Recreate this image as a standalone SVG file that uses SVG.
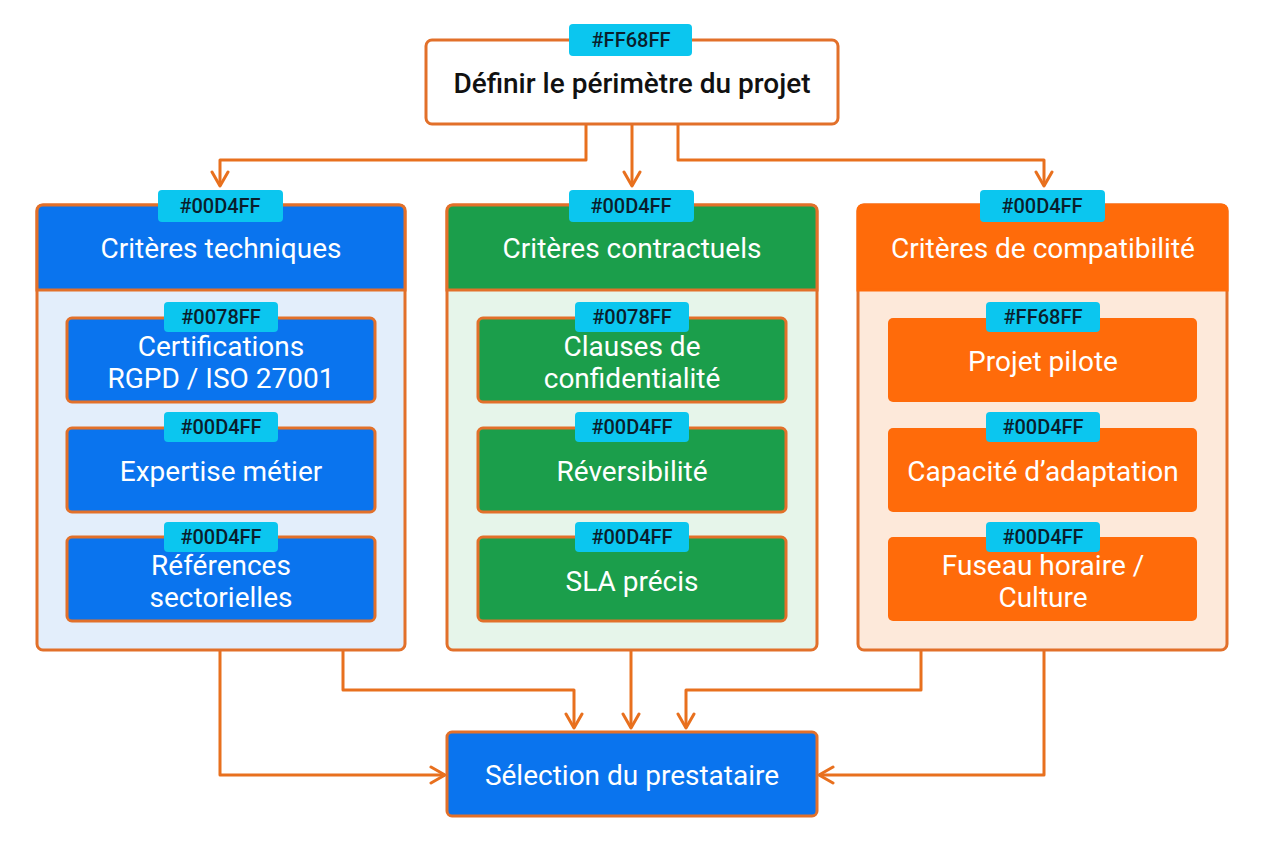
<svg xmlns="http://www.w3.org/2000/svg" width="1264" height="848" viewBox="0 0 1264 848">
<defs>
<marker id="arr" viewBox="0 0 20 20" refX="18" refY="10" markerWidth="20" markerHeight="20" markerUnits="userSpaceOnUse" orient="auto">
<path d="M4,2 L18,10 L4,18" fill="none" stroke="#E8701E" stroke-width="3" stroke-linecap="round" stroke-linejoin="round"/>
</marker>
<style>
text{font-family:Roboto,"Liberation Sans",sans-serif;text-anchor:middle;}
.t{font-size:28px;font-weight:400;fill:#ffffff;}
.dk{font-size:28px;font-weight:500;fill:#111111;}
.tag{fill:#0BC6EF;}
.tt{font-size:20px;font-weight:500;fill:#0A1E2C;}
.con{fill:none;stroke:#E8701E;stroke-width:3;stroke-linejoin:round;}
.bdr{stroke:#E2702A;stroke-width:3;}
</style>
</defs>
<rect width="1264" height="848" fill="#ffffff"/>

<g id="connectors">
<path class="con" d="M586,124 V160 H220 V186" marker-end="url(#arr)"/>
<path class="con" d="M632,124 V186" marker-end="url(#arr)"/>
<path class="con" d="M678,124 V160 H1044 V186" marker-end="url(#arr)"/>
<path class="con" d="M220,650 V775 H445" marker-end="url(#arr)"/>
<path class="con" d="M343,650 V690 H574 V728" marker-end="url(#arr)"/>
<path class="con" d="M631,650 V728" marker-end="url(#arr)"/>
<path class="con" d="M921,650 V690 H686 V728" marker-end="url(#arr)"/>
<path class="con" d="M1044,650 V775 H819" marker-end="url(#arr)"/>
</g>

<g id="start">
<rect x="426" y="40" width="412" height="84" rx="6" fill="#ffffff" class="bdr"/>
<rect class="tag" x="569" y="24" width="123" height="32" rx="4"/>
<text class="tt" x="631" y="47">#FF68FF</text>
<text class="dk" x="632" y="93">Définir le périmètre du projet</text>
</g>

<g id="group-tech">
<rect x="37" y="205" width="368" height="445" rx="6" fill="#E3EEFB" class="bdr"/>
<path d="M37,290 V211 Q37,205 43,205 H399 Q405,205 405,211 V290 Z" fill="#0A74EE" class="bdr"/>
<rect class="tag" x="158" y="190" width="125" height="32" rx="4"/>
<text class="tt" x="220" y="213">#00D4FF</text>
<text class="t" x="221" y="258">Critères techniques</text>
</g>
<g id="tech-1">
<rect x="67" y="318" width="308" height="84" rx="5" fill="#0A74EE" class="bdr"/>
<rect class="tag" x="164" y="302" width="114" height="30" rx="4"/>
<text class="tt" x="221" y="324">#0078FF</text>
<text class="t" x="221" y="356">Certifications</text>
<text class="t" x="221" y="388">RGPD / ISO 27001</text>
</g>
<g id="tech-2">
<rect x="67" y="428" width="308" height="84" rx="5" fill="#0A74EE" class="bdr"/>
<rect class="tag" x="164" y="412" width="114" height="30" rx="4"/>
<text class="tt" x="221" y="434">#00D4FF</text>
<text class="t" x="221" y="481">Expertise métier</text>
</g>
<g id="tech-3">
<rect x="67" y="537" width="308" height="84" rx="5" fill="#0A74EE" class="bdr"/>
<rect class="tag" x="164" y="522" width="114" height="30" rx="4"/>
<text class="tt" x="221" y="544">#00D4FF</text>
<text class="t" x="221" y="575">Références</text>
<text class="t" x="221" y="607">sectorielles</text>
</g>

<g id="group-contract">
<rect x="447" y="205" width="370" height="445" rx="6" fill="#E6F5EA" class="bdr"/>
<path d="M447,290 V211 Q447,205 453,205 H811 Q817,205 817,211 V290 Z" fill="#1B9E4B" class="bdr"/>
<rect class="tag" x="569" y="190" width="125" height="32" rx="4"/>
<text class="tt" x="631" y="213">#00D4FF</text>
<text class="t" x="632" y="258">Critères contractuels</text>
</g>
<g id="contract-1">
<rect x="478" y="318" width="308" height="84" rx="5" fill="#1B9E4B" class="bdr"/>
<rect class="tag" x="575" y="302" width="114" height="30" rx="4"/>
<text class="tt" x="632" y="324">#0078FF</text>
<text class="t" x="632" y="356">Clauses de</text>
<text class="t" x="632" y="388">confidentialité</text>
</g>
<g id="contract-2">
<rect x="478" y="428" width="308" height="84" rx="5" fill="#1B9E4B" class="bdr"/>
<rect class="tag" x="575" y="412" width="114" height="30" rx="4"/>
<text class="tt" x="632" y="434">#00D4FF</text>
<text class="t" x="632" y="481">Réversibilité</text>
</g>
<g id="contract-3">
<rect x="478" y="537" width="308" height="84" rx="5" fill="#1B9E4B" class="bdr"/>
<rect class="tag" x="575" y="522" width="114" height="30" rx="4"/>
<text class="tt" x="632" y="544">#00D4FF</text>
<text class="t" x="632" y="591">SLA précis</text>
</g>

<g id="group-compat">
<rect x="858" y="205" width="369" height="445" rx="6" fill="#FDE9DA" class="bdr"/>
<path d="M858,290 V211 Q858,205 864,205 H1221 Q1227,205 1227,211 V290 Z" fill="#FF6B0A" stroke="#FF6B0A" stroke-width="3"/>
<rect class="tag" x="980" y="190" width="125" height="32" rx="4"/>
<text class="tt" x="1042" y="213">#00D4FF</text>
<text class="t" x="1043" y="258">Critères de compatibilité</text>
</g>
<g id="compat-1">
<rect x="888" y="318" width="309" height="84" rx="5" fill="#FF6B0A"/>
<rect class="tag" x="986" y="302" width="114" height="30" rx="4"/>
<text class="tt" x="1043" y="324">#FF68FF</text>
<text class="t" x="1043" y="371">Projet pilote</text>
</g>
<g id="compat-2">
<rect x="888" y="428" width="309" height="84" rx="5" fill="#FF6B0A"/>
<rect class="tag" x="986" y="412" width="114" height="30" rx="4"/>
<text class="tt" x="1043" y="434">#00D4FF</text>
<text class="t" x="1043" y="481">Capacité d’adaptation</text>
</g>
<g id="compat-3">
<rect x="888" y="537" width="309" height="84" rx="5" fill="#FF6B0A"/>
<rect class="tag" x="986" y="522" width="114" height="30" rx="4"/>
<text class="tt" x="1043" y="544">#00D4FF</text>
<text class="t" x="1043" y="575">Fuseau horaire /</text>
<text class="t" x="1043" y="607">Culture</text>
</g>

<g id="end">
<rect x="447" y="732" width="370" height="84" rx="5" fill="#0A74EE" class="bdr"/>
<text class="t" x="632" y="785">Sélection du prestataire</text>
</g>
</svg>
